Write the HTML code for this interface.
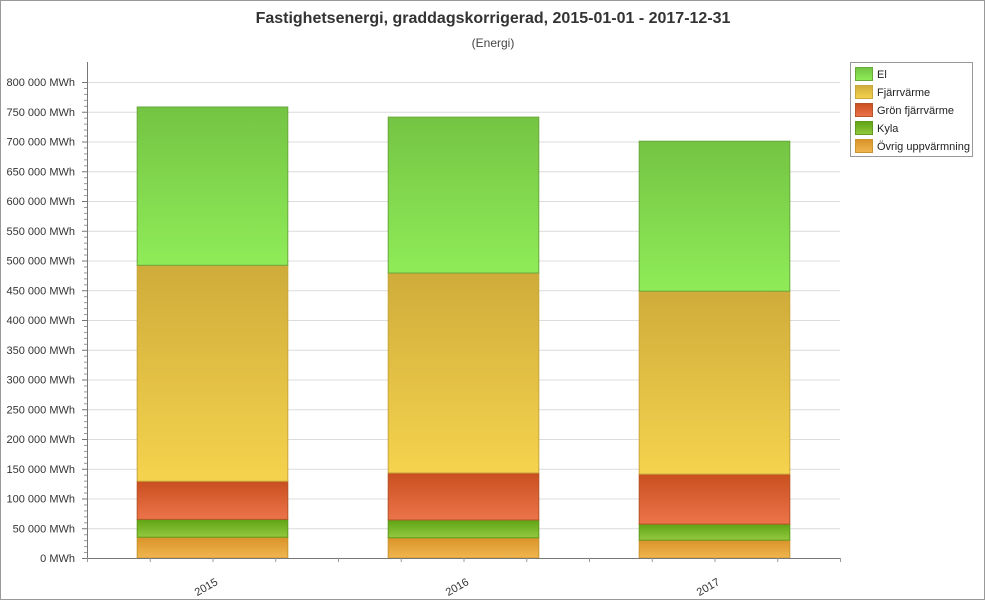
<!DOCTYPE html>
<html><head><meta charset="utf-8"><style>
body{margin:0;background:#fff;font-family:"Liberation Sans",sans-serif}
#wrap{position:relative;width:983px;height:598px;border:1px solid #999;overflow:hidden}
</style></head><body>
<div id="wrap">
<svg id="chart" width="983" height="598" xmlns="http://www.w3.org/2000/svg">
<defs>
<linearGradient id="gEl" x1="0" y1="0" x2="0" y2="1"><stop offset="0" stop-color="#74c443"/><stop offset="1" stop-color="#8fec58"/></linearGradient>
<linearGradient id="gFj" x1="0" y1="0" x2="0" y2="1"><stop offset="0" stop-color="#cfac3a"/><stop offset="1" stop-color="#f5d34e"/></linearGradient>
<linearGradient id="gGr" x1="0" y1="0" x2="0" y2="1"><stop offset="0" stop-color="#c94f1f"/><stop offset="1" stop-color="#ec744a"/></linearGradient>
<linearGradient id="gKy" x1="0" y1="0" x2="0" y2="1"><stop offset="0" stop-color="#5fa314"/><stop offset="1" stop-color="#93c940"/></linearGradient>
<linearGradient id="gOv" x1="0" y1="0" x2="0" y2="1"><stop offset="0" stop-color="#d99329"/><stop offset="1" stop-color="#f0b650"/></linearGradient>
</defs>
<text x="492" y="22" text-anchor="middle" font-size="16" font-weight="bold" fill="#333">Fastighetsenergi, graddagskorrigerad, 2015-01-01 - 2017-12-31</text>
<text x="492" y="46" text-anchor="middle" font-size="12" fill="#444">(Energi)</text>
<g id="grid"></g><g id="bars"></g><g id="axes"></g>
<g id="legend"></g>
</svg></div>
<script>
const categories=["2015","2016","2017"];
const seriesNames=["Övrig uppvärmning","Kyla","Grön fjärrvärme","Fjärrvärme","El"];
const ovrig=[35000,34000,30000];
const kyla=[30000,30000,27000];
const gron=[64000,79000,84000];
const fjarr=[363000,336000,307500];
const el=[266000,262000,252000];
const yTicks=[0,50000,100000,150000,200000,250000,300000,350000,400000,450000,500000,550000,600000,650000,700000,750000,800000];
const fills=["url(#gOv)","url(#gKy)","url(#gGr)","url(#gFj)","url(#gEl)"];
const strokes=["#c9952f","#5e9a1c","#b5532a","#c8a73c","#6aa83d"];
const X0=86,X1=839,Y0=557,Y1=81;
const ns="http://www.w3.org/2000/svg";
function y(v){return Y0-(v/800000)*(Y0-Y1);}
const band=(X1-X0)/categories.length;
function xc(i){return X0+band*(i+0.5);}
function mk(t,a,p){const e=document.createElementNS(ns,t);for(const k in a)e.setAttribute(k,a[k]);p.appendChild(e);return e;}
const grid=document.getElementById('grid'),axes=document.getElementById('axes'),bars=document.getElementById('bars');
yTicks.forEach(v=>{
 const l=mk('line',{x1:X0,x2:X1,y1:y(v)+.5,y2:y(v)+.5,stroke:'#dcdcdc'},grid);
 
 
 const t=mk('text',{x:74,y:y(v)+4,'text-anchor':'end','font-size':'11',fill:'#333'},axes);
 t.textContent=(v===0?'0':(v/1000)+' 000')+' MWh';
 
 
 mk('line',{x1:X0-5,x2:X0,y1:y(v)+.5,y2:y(v)+.5,stroke:'#777'},axes);
});
for(let v=10000;v<800000;v+=10000){if(v%50000)mk('line',{x1:X0-3,x2:X0,y1:y(v)+.5,y2:y(v)+.5,stroke:'#999'},axes);}
mk('line',{x1:X0+.5,x2:X0+.5,y1:Y1-20,y2:Y0,stroke:'#777'},axes);
mk('line',{x1:X0,x2:X1,y1:Y0+.5,y2:Y0+.5,stroke:'#777'},axes);
const data=[ovrig,kyla,gron,fjarr,el];
categories.forEach((c,i)=>{
 let cum=0;const w=band*0.6,x=xc(i)-w/2;
 data.forEach((s,k)=>{
  const r=mk('rect',{x:x,y:y(cum+s[i]),width:w,height:y(cum)-y(cum+s[i]),fill:fills[k],stroke:strokes[k],'stroke-width':1},bars);
  
  
  cum+=s[i];
 });
 const t=mk('text',{x:xc(i)+6,y:Y0+26,'text-anchor':'end','font-size':'11',fill:'#333',transform:`rotate(-30 ${xc(i)+6} ${Y0+26})`},axes);
 t.textContent=c;
 
 
 for(let j=0;j<5;j++){const tx=X0+band*i+band*j/4;mk('line',{x1:tx+.5,x2:tx+.5,y1:Y0,y2:Y0+4,stroke:'#999'},axes);}
});
const lg=document.getElementById('legend');
mk('rect',{x:849.5,y:61.5,width:122,height:94,fill:'#fff',stroke:'#999'},lg);
const order=[4,3,2,1,0];
order.forEach((k,j)=>{
 const yy=66+j*18;
 const g=mk('g',{},lg);
 
 
 mk('rect',{x:854.5,y:yy+.5,width:17,height:13,fill:fills[k],stroke:strokes[k]},g);
 const t=mk('text',{x:876,y:yy+11,'font-size':'11',fill:'#222'},g);
 t.textContent=seriesNames[k];
});
</script>
</body></html>
